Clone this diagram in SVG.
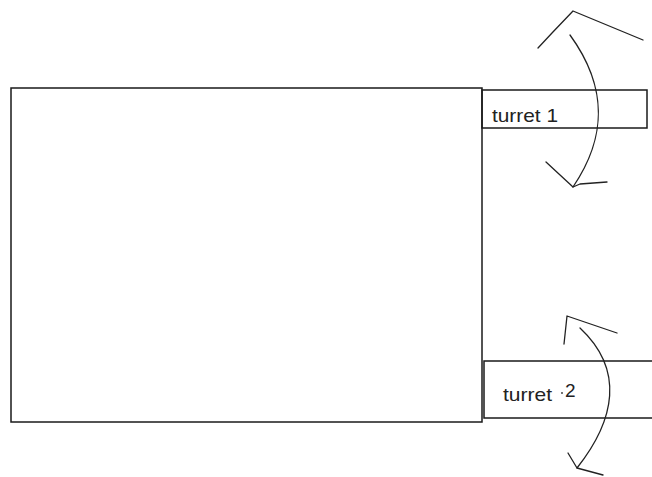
<svg xmlns="http://www.w3.org/2000/svg" width="652" height="477" viewBox="0 0 652 477">
<style>
.box{fill:none;stroke:#1a1a1a;stroke-width:1.5}
.arr{fill:none;stroke:#222;stroke-width:1.3;stroke-linejoin:round;stroke-linecap:round}
.lbl{font-family:"Liberation Sans",Arial,sans-serif;font-size:19px;fill:#222}
</style>
<rect width="652" height="477" fill="#fff"/>
<g id="hull"><rect class="box" x="11" y="88" width="471" height="334"/></g>
<g id="turret1">
<rect class="box" x="482" y="90" width="165" height="38"/>
<text class="lbl" x="492" y="122" textLength="66" lengthAdjust="spacingAndGlyphs">turret 1</text>
</g>
<g id="turret2">
<rect class="box" x="484" y="361" width="180" height="57"/>
<text class="lbl" x="503" y="401" textLength="49" lengthAdjust="spacingAndGlyphs">turret</text>
<circle cx="562" cy="393" r="0.9" fill="#333"/>
<text class="lbl" x="565" y="397" font-size="18">2</text>
</g>
<g id="connectors">
<path class="arr" d="M570,35 C610,90 605,140 573,187"/>
<polyline class="arr" points="538,48 552,33 573,11 643,40"/>
<polyline class="arr" points="546,162 573,187 580,184 607,182"/>
<path class="arr" d="M580,328 C625,370 615,420 577,468"/>
<polyline class="arr" points="564,344 567,316 617,333"/>
<polyline class="arr" points="568,453 577,468 603,475"/>
</g>
</svg>
